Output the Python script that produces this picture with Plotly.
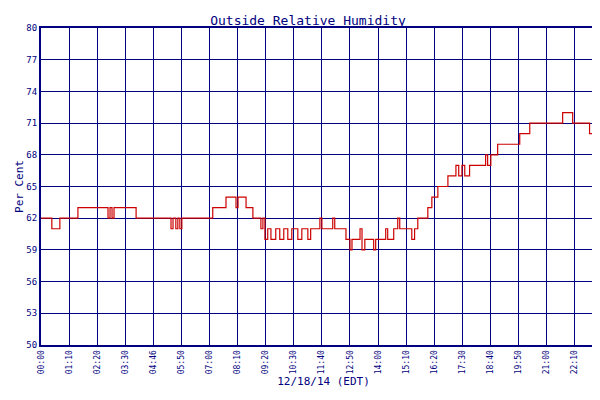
import plotly.graph_objects as go

# minutes after midnight, humidity %
minutes = [0, 27, 47, 92, 167, 172, 177, 182, 237, 242, 324, 329, 336, 341, 346, 351,
           428, 461, 486, 491, 511, 528, 548, 553, 558, 565, 573, 585, 595, 605, 615,
           625, 640, 650, 665, 672, 695, 700, 727, 732, 760, 770, 775, 795, 800, 807,
           829, 834, 859, 864, 879, 889, 894, 924, 931, 939, 964, 974, 989, 1014, 1034,
           1041, 1049, 1056, 1068, 1108, 1113, 1121, 1138, 1193, 1218, 1300, 1325, 1367, 1407]
humidity = [62, 61, 62, 63, 62, 63, 62, 63, 62, 62, 61, 62, 61, 62, 61, 62,
            63, 64, 63, 64, 63, 62, 61, 62, 60, 61, 60, 61, 60, 61, 60,
            61, 60, 61, 60, 61, 62, 61, 62, 61, 60, 59, 60, 61, 59, 60,
            59, 60, 61, 60, 61, 62, 61, 60, 61, 62, 63, 64, 65, 66, 67,
            66, 67, 66, 67, 68, 67, 68, 69, 70, 71, 72, 71, 70, 70]

tick_vals = [0, 70, 140, 210, 280, 350, 420, 490, 560, 630, 700, 770, 840, 910,
             980, 1050, 1120, 1190, 1260, 1330, 1400, 1408]
tick_text = ["00:00", "01:10", "02:20", "03:30", "04:46", "05:50", "07:00", "08:10",
             "09:20", "10:30", "11:40", "12:50", "14:00", "15:10", "16:20", "17:30",
             "18:40", "19:50", "21:00", "22:10", "23:20", "23:28"]
y_ticks = [50, 53, 56, 59, 62, 65, 68, 71, 74, 77, 80]

navy = "#000080"
fig = go.Figure(go.Scatter(x=minutes, y=humidity, mode="lines", line_shape="hv",
                           line=dict(color="#cc0000", width=1.2), name="Relative Humidity"))

fig.update_layout(
    width=600, height=400, plot_bgcolor="white", paper_bgcolor="white",
    margin=dict(l=33, r=2, t=20, b=63, autoexpand=False),
    font=dict(family="DejaVu Sans Mono", color=navy, size=9),
    title=dict(text="Outside Relative Humidity", x=0.5, y=0.98, xanchor="center",
               font=dict(size=13, color=navy)),
    showlegend=True,
    legend=dict(orientation="h", x=0.5, xanchor="center", y=-0.17, yanchor="top",
                font=dict(size=8, color=navy)),
)
fig.update_xaxes(range=[0, 1408], tickvals=tick_vals, ticktext=tick_text, tickangle=-90,
                 automargin=False, ticklen=0,
                 showgrid=True, gridcolor=navy, gridwidth=1.2, showline=True,
                 linecolor=navy, linewidth=2, mirror=True, zeroline=False,
                 title=dict(text="12/18/14 (EDT)", font=dict(size=11, color=navy), standoff=4),
                 tickfont=dict(size=8))
fig.update_yaxes(range=[50, 80], tickvals=y_ticks, showgrid=True, gridcolor=navy, gridwidth=1.2,
                 automargin=False, ticklen=0,
                 showline=True, linecolor=navy, linewidth=2, mirror=True, zeroline=False,
                 title=dict(text="Per Cent", font=dict(size=11, color=navy), standoff=0),
                 tickfont=dict(size=9))

fig.write_html("out.html")
